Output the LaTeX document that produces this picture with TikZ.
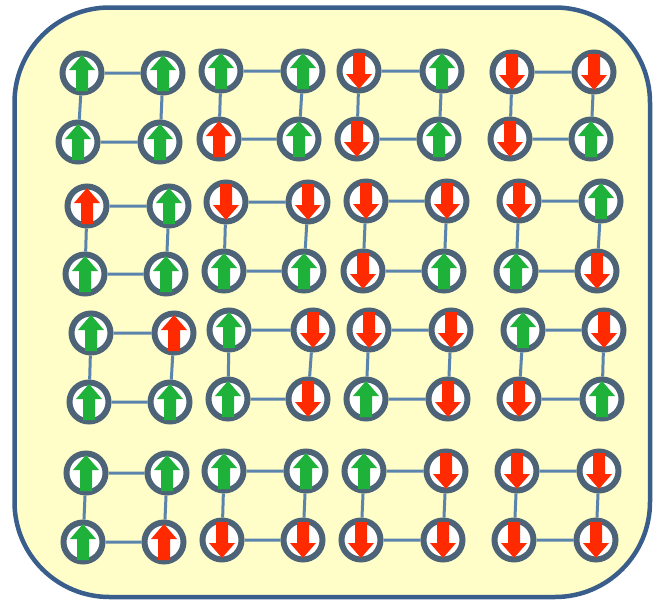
\documentclass[tikz,border=0pt]{standalone}
\usetikzlibrary{calc}
\definecolor{bgc}{HTML}{FFFDC8}
\definecolor{framec}{HTML}{3A5E8C}
\definecolor{ringc}{HTML}{4D6478}
\definecolor{bondc}{HTML}{5A84AE}
\definecolor{greenc}{HTML}{1FB23A}
\definecolor{redc}{HTML}{FF2A00}
\tikzset{
  site/.style={circle, draw=ringc, line width=6pt, fill=white, minimum size=39pt, inner sep=0pt},
  bond/.style={draw=bondc, line width=3pt},
  frame/.style={draw=framec, fill=bgc, line width=4.5pt, rounded corners=95pt},
  ug/.pic={\fill[greenc] (0,-18) -- (13,-3) -- (6,-3) -- (6,18) -- (-6,18) -- (-6,-3) -- (-13,-3) -- cycle;},
  ur/.pic={\fill[redc] (0,-18) -- (13,-3) -- (6,-3) -- (6,18) -- (-6,18) -- (-6,-3) -- (-13,-3) -- cycle;},
  dr/.pic={\fill[redc] (0,18) -- (13,3) -- (6,3) -- (6,-18) -- (-6,-18) -- (-6,3) -- (-13,3) -- cycle;}
}
\newcommand\site[4]{\node[site] (#1) at (#2,#3) {}; \pic at (#1) {#4};}
\newcommand\plaq[1]{\draw[bond] (#1a) -- (#1b) -- (#1d) -- (#1c) -- (#1a);}
\begin{document}
\begin{tikzpicture}[x=1pt,y=-1pt]
\useasboundingbox (0,0) rectangle (654,603);
\path[frame] (14.5,7.5) rectangle (650,597);
% row 1
\site{pa}{82}{73}{ug}\site{pb}{163}{73}{ug}\site{pc}{78}{142}{ug}\site{pd}{160}{142}{ug}
\site{qa}{221}{71}{ug}\site{qb}{303}{71}{ug}\site{qc}{219}{139}{ur}\site{qd}{299}{139}{ug}
\site{ra}{359}{71}{dr}\site{rb}{442}{71}{ug}\site{rc}{357}{139}{dr}\site{rd}{439}{139}{ug}
\site{sa}{512}{72}{dr}\site{sb}{594}{72}{dr}\site{sc}{510}{139}{dr}\site{sd}{591}{139}{ug}
% row 2
\site{ta}{87}{206}{ur}\site{tb}{169}{206}{ug}\site{tc}{85}{274}{ug}\site{td}{166}{274}{ug}
\site{ua}{226}{202}{dr}\site{ub}{308}{202}{dr}\site{uc}{224}{271}{ug}\site{ud}{304}{271}{ug}
\site{va}{366}{201}{dr}\site{vb}{447}{201}{dr}\site{vc}{363}{271}{dr}\site{vd}{444}{271}{ug}
\site{wa}{519}{201}{dr}\site{wb}{601}{201}{ug}\site{wc}{516}{271}{ug}\site{wd}{597}{271}{dr}
% row 3
\site{xa}{91}{333}{ug}\site{xb}{174}{333}{ur}\site{xc}{89}{402}{ug}\site{xd}{170}{402}{ug}
\site{ya}{229}{330}{ug}\site{yb}{313}{330}{dr}\site{yc}{228}{399}{ug}\site{yd}{308}{399}{dr}
\site{za}{369}{330}{dr}\site{zb}{451}{330}{dr}\site{zc}{366}{399}{ug}\site{zd}{448}{399}{dr}
\site{ka}{523}{330}{ug}\site{kb}{604}{330}{dr}\site{kc}{519}{399}{dr}\site{kd}{602}{399}{ug}
% row 4
\site{la}{86}{473}{ug}\site{lb}{167}{473}{ug}\site{lc}{83}{542}{ug}\site{ld}{164}{542}{ur}
\site{ma}{224}{471}{ug}\site{mb}{306}{471}{ug}\site{mc}{222}{540}{dr}\site{md}{303}{540}{dr}
\site{na}{364}{471}{ug}\site{nb}{446}{471}{dr}\site{nc}{361}{540}{dr}\site{nd}{443}{540}{dr}
\site{oa}{517}{471}{dr}\site{ob}{599}{471}{dr}\site{oc}{514}{540}{dr}\site{od}{596}{540}{dr}
% bonds
\plaq{p}\plaq{q}\plaq{r}\plaq{s}
\plaq{t}\plaq{u}\plaq{v}\plaq{w}
\plaq{x}\plaq{y}\plaq{z}\plaq{k}
\plaq{l}\plaq{m}\plaq{n}\plaq{o}
\end{tikzpicture}
\end{document}
